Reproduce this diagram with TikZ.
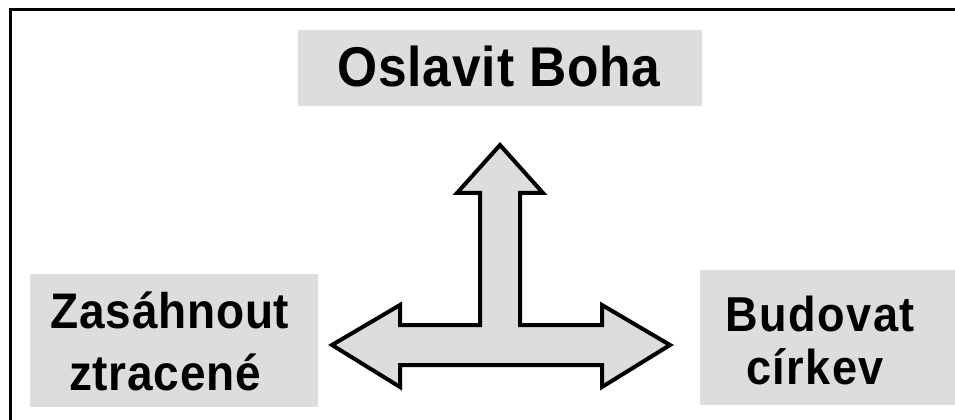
\documentclass[tikz,border=0pt]{standalone}
\usepackage{fontspec}
\setmainfont{Liberation Sans}
\newfontfamily\topfont[FakeStretch=0.92,LetterSpace=1.5]{Liberation Sans}
\newfontfamily\leftfont[FakeStretch=0.92,LetterSpace=1.5]{Liberation Sans}
\newfontfamily\rightfont[FakeStretch=0.92,LetterSpace=3]{Liberation Sans}
\definecolor{boxgray}{HTML}{DDDDDD}
\begin{document}
\begin{tikzpicture}[x=0.75pt,y=-0.75pt,
  box/.style={fill=boxgray,draw=none,inner sep=0pt,anchor=north west},
  lbl/.style={anchor=base,inner sep=0pt},
  frame/.style={line width=2.25pt},
  bigarrow/.style={fill=boxgray,draw=black,line width=3pt,line join=miter}]
\useasboundingbox (0,0) rectangle (955,420);
% frame
\coordinate (fl) at (10,420);
\coordinate (fc) at (10,10);
\coordinate (fr) at (955,10);
\draw[frame] (fl) -- (fc) -- (fr);
% boxes
\node[box,minimum width=404*0.75pt,minimum height=76*0.75pt] (top) at (298,30) {};
\node[box,minimum width=288*0.75pt,minimum height=133*0.75pt] (left) at (30,274) {};
\node[box,minimum width=255*0.75pt,minimum height=135*0.75pt] (right) at (700,270) {};
% texts
\node[lbl,font=\topfont\bfseries\fontsize{42}{49}\selectfont] (t1) at (499,87) {Oslavit Boha};
\node[lbl,font=\leftfont\bfseries\fontsize{37.5}{46}\selectfont] (l1) at (170,328) {Zasáhnout};
\node[lbl,font=\leftfont\bfseries\fontsize{37.5}{46}\selectfont] (l2) at (165,390) {ztracené};
\node[lbl,font=\rightfont\bfseries\fontsize{36.75}{42}\selectfont] (r1) at (820,331) {Budovat};
\node[lbl,font=\rightfont\bfseries\fontsize{36.75}{42}\selectfont] (r2) at (815,384) {církev};
% three-way arrow
\draw[bigarrow] (500,145) -- (543,193) -- (520,193) -- (520,325) -- (602,325)
  -- (602,305) -- (670,345) -- (602,387) -- (602,365) -- (400,365) -- (400,387)
  -- (332,345) -- (400,305) -- (400,325) -- (480,325) -- (480,193) -- (457,193) -- cycle;
\end{tikzpicture}
\end{document}
